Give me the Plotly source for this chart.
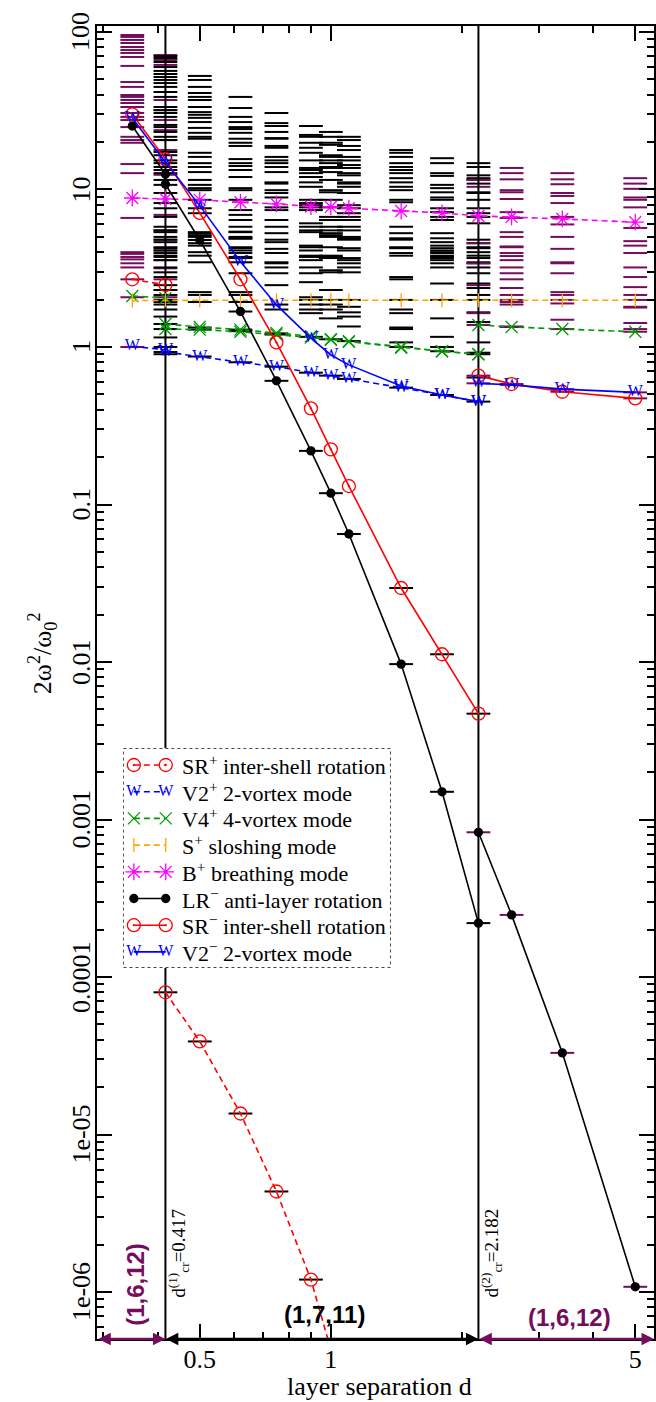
import math
import plotly.graph_objects as go

# ---------------- data ----------------
d_all = [0.35, 0.417, 0.5, 0.62, 0.75, 0.9, 1.0, 1.1, 1.45, 1.8, 2.182, 2.6, 3.4, 5.0]
d_r1 = [0.35, 0.417]
d_mid = [0.417, 0.5, 0.62, 0.75, 0.9, 1.0, 1.1, 1.45, 1.8, 2.182]
d_r3 = [2.182, 2.6, 3.4, 5.0]

# SR+ inter-shell rotation (dashed)
srp_r1 = [2.69, 2.48]
srp_mid_d = [0.417, 0.5, 0.62, 0.75, 0.9, 1.0]
srp_mid = [8.0e-5, 3.9e-5, 1.36e-5, 4.35e-6, 1.2e-6, 4.3e-7]
# V2+ 2-vortex mode (dashed)
v2p_r1 = [1.01, 0.96]
v2p_mid = [0.93, 0.867, 0.80, 0.75, 0.687, 0.658, 0.627, 0.552, 0.496, 0.45]
# V4+ 4-vortex mode (dashed)
v4p_r1 = [2.11, 2.04]
v4p_mid_a = [1.40, 1.34, 1.29, 1.23, 1.17, 1.12, 1.09, 1.0, 0.94, 0.90]
v4p_mid_b = [1.30, 1.29, 1.25, 1.20, 1.15, 1.11, 1.08, 0.99, 0.94, 0.90]
v4p_r3 = [1.38, 1.34, 1.30, 1.25]
# S+ sloshing mode
sp_all = [1.97, 1.98, 1.98, 1.98, 1.98, 1.98, 1.98, 1.98, 1.98, 1.98, 1.98, 1.98, 1.98, 1.98]
# B+ breathing mode
bp_all = [8.83, 8.7, 8.6, 8.3, 8.1, 7.8, 7.75, 7.6, 7.3, 7.1, 6.8, 6.7, 6.5, 6.2]
# LR- anti-layer rotation (solid)
lrm_r1 = [25.3, 12.5]
lrm_mid = [10.8, 4.78, 1.68, 0.61, 0.219, 0.118, 0.065, 0.0097, 0.0015, 2.2e-4]
lrm_r3 = [8.3e-4, 2.48e-4, 3.3e-5, 1.08e-6]
# SR- inter-shell rotation (solid)
srm_d = [0.35, 0.417, 0.5, 0.62, 0.75, 0.9, 1.0, 1.1, 1.45, 1.8, 2.182]
srm_main = [30.0, 15.6, 7.1, 2.69, 1.07, 0.408, 0.224, 0.131, 0.0295, 0.0112, 0.0047]
srm_r3 = [0.658, 0.582, 0.52, 0.472]
# V2- 2-vortex mode (solid)
v2m_main = [28.4, 14.9, 7.9, 3.48, 1.85, 1.14, 0.89, 0.77, 0.565, 0.496, 0.45]
v2m_r3 = [0.588, 0.575, 0.54, 0.515]

# excitation spectra (short horizontal bars)
spec_035_purple = [95.7, 93.0, 89.0, 85.1, 80.3, 76.8, 73.6, 69.4, 60.9, 48.1, 44.8, 39.8, 38.7, 37.0,
                   35.4, 33.4, 30.6, 28.9, 27.6, 24.9, 21.6, 20.6, 19.8, 14.5, 12.7, 6.6, 4.0, 3.9,
                   3.73, 3.6, 3.4, 3.2, 2.69, 2.07, 1.0]
spec_0417_black = [70.4, 68.4, 64.5, 59.9, 56.6, 54.1, 51.8, 49.6, 47.4, 44.8, 41.6, 38.7, 33.4, 31.9,
                   30.6, 28.9, 25.7, 24.9, 23.2, 21.6, 20.6, 17.3, 16.5, 15.3, 14.7, 13.9, 13.3, 12.7,
                   11.5, 10.7, 9.5, 8.2, 7.6, 6.7, 5.8, 5.5, 5.36, 5.0, 4.8, 4.63, 4.3, 4.24, 4.1, 3.95,
                   3.8, 3.73, 3.56, 3.2, 2.98, 2.78, 2.47, 2.3, 2.14, 1.99, 1.93, 1.86, 1.73, 1.56,
                   1.40, 1.30, 1.15, 1.0, 0.93, 0.90, 8.0e-5]
spec_0417_purple = [71.4, 66.4, 61.8, 37.0, 31.9, 27.6, 23.8, 20.6, 17.8, 12.4, 6.9, 5.5, 4.8, 4.1,
                    3.56, 3.16, 2.69, 2.3, 2.07]
spec_05_black = [52.6, 49.6, 44.8, 41.0, 38.7, 37.0, 33.4, 31.0, 29.8, 28.5, 26.8, 24.6, 22.9, 21.6,
                 21.0, 17.1, 16.1, 14.7, 13.9, 12.9, 11.5, 10.7, 10.2, 9.9, 8.6, 7.6, 7.07, 5.36,
                 5.28, 5.13, 5.0, 4.56, 4.4, 4.0, 3.8, 3.45, 2.23, 2.14, 1.93, 1.33, 1.29, 0.87,
                 4.78, 3.9e-5]
spec_062_black = [38.7, 32.9, 28.9, 26.8, 24.9, 24.2, 22.9, 21.0, 19.8, 18.9, 15.6, 14.7, 14.1, 13.3,
                  12.0, 10.2, 9.9, 8.6, 7.4, 6.9, 6.4, 5.8, 5.4, 5.36, 5.0, 4.9, 4.87, 4.3, 4.24,
                  4.1, 3.95, 3.73, 3.67, 3.45, 2.94, 2.23, 2.14, 1.93, 1.68, 1.29, 1.26, 0.80, 1.36e-5]
spec_075_black = [30.6, 26.4, 25.3, 23.2, 21.2, 21.0, 18.9, 18.4, 16.1, 15.3, 14.7, 13.9, 12.9, 11.1,
                  10.9, 9.9, 9.5, 8.9, 7.7, 7.4, 6.4, 5.8, 5.28, 4.8, 4.63, 4.2, 3.95, 3.45, 3.4,
                  3.2, 2.94, 2.47, 1.86, 1.73, 1.22, 1.20, 0.75, 0.61, 4.35e-6]
spec_09_black = [25.3, 22.2, 21.6, 19.8, 18.4, 17.1, 15.3, 13.7, 13.3, 12.7, 12.0, 11.1, 10.4, 8.6,
                 8.2, 7.95, 7.7, 7.4, 6.1, 5.8, 5.5, 5.36, 4.4, 4.3, 4.1, 3.8, 3.73, 3.56, 3.2, 2.94,
                 2.58, 2.07, 1.99, 1.86, 1.73, 1.64, 1.16, 0.687, 0.219, 1.2e-6]
spec_10_black = [23.2, 21.6, 19.8, 19.2, 16.5, 16.1, 15.3, 14.7, 13.9, 13.7, 12.9, 11.5, 9.9, 9.6,
                 8.6, 7.7, 6.7, 6.4, 5.8, 5.5, 5.28, 5.13, 5.0, 4.3, 3.8, 3.73, 3.67, 3.07, 2.98,
                 2.3, 1.99, 1.86, 1.73, 1.52, 1.12, 0.658, 0.118]
spec_11_black = [21.6, 20.6, 18.9, 17.8, 16.1, 15.3, 14.3, 13.7, 12.7, 12.3, 11.1, 10.9, 10.4, 9.5,
                 7.95, 7.6, 7.07, 6.7, 6.4, 5.8, 5.5, 5.0, 4.9, 4.8, 4.24, 4.1, 3.67, 3.56, 3.4,
                 3.2, 2.98, 1.99, 1.8, 1.66, 1.56, 1.35, 1.09, 0.627, 0.065]
spec_145_black = [17.8, 17.1, 16.1, 14.7, 13.9, 13.3, 12.7, 11.8, 11.1, 10.4, 9.9, 8.6, 8.3, 5.8,
                  5.28, 4.9, 4.8, 4.3, 4.24, 3.95, 3.8, 2.78, 2.69, 1.99, 1.73, 1.64, 1.33, 1.30,
                  1.07, 1.0, 0.552, 0.0295, 0.0097]
spec_18_black = [15.8, 14.7, 12.7, 12.2, 10.7, 10.2, 9.6, 8.9, 8.6, 7.6, 7.18, 6.7, 6.4, 5.28, 4.9,
                 4.63, 4.4, 4.24, 4.1, 4.0, 3.95, 3.8, 3.73, 3.67, 3.56, 3.4, 3.2, 2.53, 1.99, 1.52,
                 1.16, 1.0, 0.94, 0.496, 0.0112, 0.0015]
spec_2182_black = [14.7, 13.9, 12.3, 11.8, 11.5, 10.9, 9.6, 9.5, 8.6, 7.6, 7.07, 6.7, 6.1, 4.8, 4.56,
                   4.3, 4.24, 4.0, 3.8, 3.67, 3.45, 3.4, 3.2, 2.94, 2.53, 2.37, 2.14, 1.99, 1.66,
                   1.44, 1.07, 0.92, 0.90, 0.64, 0.45, 0.0047, 2.2e-4]
spec_2182_purple = [11.5, 10.4, 4.56, 3.4, 2.47, 1.64, 1.38, 0.658, 0.588, 8.3e-4]
spec_26_purple = [13.7, 12.7, 11.6, 9.9, 9.6, 8.7, 7.18, 6.6, 5.36, 5.0, 4.35, 4.3, 3.95, 3.78, 3.56,
                  3.2, 2.94, 2.69, 2.37, 2.14, 1.99, 1.93, 1.86, 1.35, 1.34, 0.582, 0.575, 2.48e-4]
spec_34_purple = [12.7, 11.6, 10.8, 9.5, 9.1, 8.2, 6.7, 6.0, 5.0, 4.2, 3.45, 3.4, 2.94, 2.23, 2.14,
                  1.99, 1.89, 1.49, 1.30, 0.54, 0.52, 3.3e-5]
spec_50_purple = [11.8, 10.9, 10.1, 8.9, 8.6, 7.7, 5.7, 4.7, 4.4, 3.95, 3.2, 2.78, 2.4, 2.14, 1.99,
                  1.8, 1.78, 1.42, 1.30, 1.25, 0.515, 0.472, 1.08e-6]

d_cr1 = 0.417
d_cr2 = 2.182

x_ticks = [0.5, 1, 5]
x_ticktext = ["0.5", "1", "5"]
x_minor = [0.3, 0.4, 0.6, 0.7, 0.8, 0.9, 2, 3, 4]
y_ticks = [1e-6, 1e-5, 1e-4, 1e-3, 1e-2, 1e-1, 1, 10, 100]
y_ticktext = ["1e-06", "1e-05", "0.0001", "0.001", "0.01", "0.1", "1", "10", "100"]
y_minor = [m * 10.0 ** e for e in range(-7, 2) for m in range(2, 10)]

legend_labels = ["SR<sup>+</sup> inter-shell rotation", "V2<sup>+</sup> 2-vortex mode",
                 "V4<sup>+</sup> 4-vortex mode", "S<sup>+</sup> sloshing mode",
                 "B<sup>+</sup> breathing mode", "LR<sup>\u2212</sup> anti-layer rotation",
                 "SR<sup>\u2212</sup> inter-shell rotation", "V2<sup>\u2212</sup> 2-vortex mode"]

# ---------------- styling ----------------
W, H = 656, 1402
ML, MR, MT, MB = 97, 0, 26, 63
PW = W - ML - MR
PH = H - MT - MB
XR = [-0.537, 0.742]
YR = [-6.298, 2.038]

RED = "#ff0000"
BLUE = "#0000ff"
GREEN = "#009a00"
ORANGE = "#ffa500"
MAGENTA = "#ff00ff"
PURPLE = "#760c5c"
SERIF = "Liberation Serif"
SANS = "Liberation Sans"
DASH = "6px,4px"

# legend box (pixels)
LX0, LX1, LY0, LY1 = 123, 392, 748, 968


def xp(d):
    return (math.log10(d) - XR[0]) / (XR[1] - XR[0])


def yfrac(v):
    return (math.log10(v) - YR[0]) / (YR[1] - YR[0])


def yp(py):
    return 1 - (py - MT) / PH


def xpp(px):
    return (px - ML) / PW


def join(*segs):
    xs, ys = [], []
    for i, (dx, dy) in enumerate(segs):
        if i:
            xs.append(None)
            ys.append(None)
        xs += list(dx)
        ys += list(dy)
    return xs, ys


fig = go.Figure()

# spectra
spectra = [
    (0.35, spec_035_purple, PURPLE), (0.417, spec_0417_purple, PURPLE), (0.417, spec_0417_black, "black"),
    (0.5, spec_05_black, "black"), (0.62, spec_062_black, "black"), (0.75, spec_075_black, "black"),
    (0.9, spec_09_black, "black"), (1.0, spec_10_black, "black"), (1.1, spec_11_black, "black"),
    (1.45, spec_145_black, "black"), (1.8, spec_18_black, "black"), (2.182, spec_2182_black, "black"),
    (2.182, spec_2182_purple, PURPLE), (2.6, spec_26_purple, PURPLE), (3.4, spec_34_purple, PURPLE),
    (5.0, spec_50_purple, PURPLE),
]
for d, vals, col in spectra:
    fig.add_trace(go.Scatter(x=[d] * len(vals), y=vals, mode="markers", showlegend=False,
                             hoverinfo="skip",
                             marker=dict(symbol="line-ew-open", size=17, color=col,
                                         line=dict(color=col, width=2))))

# critical separations
for dc in (d_cr1, d_cr2):
    fig.add_trace(go.Scatter(x=[dc, dc], y=[1e-8, 1e3], mode="lines", showlegend=False,
                             hoverinfo="skip", line=dict(color="black", width=2)))


def add_mode(xs, ys, color, dash, symbol=None, msize=12, text=None, xaxis="x", yaxis="y"):
    if text:
        tr = go.Scatter(x=xs, y=ys, mode="lines+text", text=text, textposition="middle center",
                        textfont=dict(color=color, size=16, family=SERIF),
                        line=dict(color=color, width=1.6, dash=dash))
    else:
        tr = go.Scatter(x=xs, y=ys, mode="lines+markers",
                        line=dict(color=color, width=1.6, dash=dash),
                        marker=dict(symbol=symbol, size=msize, color=color,
                                    line=dict(color=color, width=1.3)))
    tr.update(showlegend=False, hoverinfo="skip", xaxis=xaxis, yaxis=yaxis)
    fig.add_trace(tr)


mode_styles = [
    (RED, DASH, "circle-open-dot", 13, None),
    (BLUE, DASH, None, 12, "W"),
    (GREEN, DASH, "x-thin-open", 12, None),
    (ORANGE, DASH, "line-ns-open", 10, None),
    (MAGENTA, DASH, "asterisk-open", 14, None),
    ("black", "solid", "circle", 8, None),
    (RED, "solid", "circle-open-dot", 13, None),
    (BLUE, "solid", None, 12, "W"),
]

mode_data = [
    join((d_r1, srp_r1), (srp_mid_d, srp_mid)),
    join((d_r1, v2p_r1), (d_mid, v2p_mid)),
    join((d_r1, v4p_r1), (d_mid, v4p_mid_a), (d_mid, v4p_mid_b), (d_r3, v4p_r3)),
    (d_all, sp_all),
    (d_all, bp_all),
    join((d_r1, lrm_r1), (d_mid, lrm_mid), (d_r3, lrm_r3)),
    join((srm_d, srm_main), (d_r3, srm_r3)),
    join((srm_d, v2m_main), (d_r3, v2m_r3)),
]
for (xs, ys), (col, dash, sym, ms, txt) in zip(mode_data, mode_styles):
    add_mode(xs, ys, col, dash, sym, ms, txt)

# legend drawn in an inset subplot (pixel coordinates)
row_y = [765 + i * 26.7 for i in range(8)]
for ry, (col, dash, sym, ms, txt) in zip(row_y, mode_styles):
    add_mode([134, 166], [ry, ry], col, dash, sym, ms, txt, xaxis="x2", yaxis="y2")

axis_common = dict(showline=True, linecolor="black", linewidth=2, mirror="ticks", ticks="inside",
                   ticklen=15, tickwidth=2, tickcolor="black", showgrid=False, zeroline=False,
                   tickfont=dict(family=SERIF, size=26, color="black"))
fig.update_layout(
    xaxis=dict(type="log", range=XR, tickvals=x_ticks, ticktext=x_ticktext, ticklabelstandoff=-4,
               minor=dict(tickvals=x_minor, ticks="inside", ticklen=7, tickwidth=2,
                          tickcolor="black"), **axis_common),
    yaxis=dict(type="log", range=YR, tickvals=y_ticks, showticklabels=False,
               minor=dict(tickvals=y_minor, ticks="inside", ticklen=7, tickwidth=2,
                          tickcolor="black"), **axis_common),
    xaxis2=dict(domain=[xpp(LX0), xpp(LX1)], range=[LX0, LX1], anchor="y2", visible=False,
                fixedrange=True),
    yaxis2=dict(domain=[yp(LY1), yp(LY0)], range=[LY1, LY0], anchor="x2", visible=False,
                fixedrange=True),
)

ann = []
for v, t in zip(y_ticks, y_ticktext):
    ann.append(dict(text=t, x=xpp(81), y=yfrac(v), xref="paper", yref="paper", showarrow=False,
                    textangle=-90, xanchor="center", yanchor="middle",
                    font=dict(family=SERIF, size=26, color="black")))
ann.append(dict(text="2\u03c9<sup>2</sup>/\u03c9<sub>0</sub><sup>2</sup>", x=xpp(42), y=yp(653),
                xref="paper", yref="paper", showarrow=False, textangle=-90,
                xanchor="center", yanchor="middle",
                font=dict(family=SERIF, size=26, color="black")))
ann.append(dict(text="layer separation d", x=xpp(381), y=yp(1386), xref="paper", yref="paper",
                showarrow=False, xanchor="center", yanchor="middle",
                font=dict(family=SERIF, size=26, color="black")))
ann.append(dict(text="d<sup>(1)</sup><sub>cr</sub>=0.417", x=xpp(178), y=yp(1253),
                xanchor="center", yanchor="middle",
                xref="paper", yref="paper", showarrow=False, textangle=-90,
                font=dict(family=SERIF, size=19, color="black")))
ann.append(dict(text="d<sup>(2)</sup><sub>cr</sub>=2.182", x=xpp(492), y=yp(1253),
                xanchor="center", yanchor="middle",
                xref="paper", yref="paper", showarrow=False, textangle=-90,
                font=dict(family=SERIF, size=19, color="black")))
ann.append(dict(text="<b>(1,6,12)</b>", x=xpp(135), y=yp(1284), xref="paper", yref="paper",
                xanchor="center", yanchor="middle",
                showarrow=False, textangle=-90, font=dict(family=SANS, size=24, color=PURPLE)))
ann.append(dict(text="<b>(1,7,11)</b>", x=xpp(325), y=yp(1314), xref="paper", yref="paper",
                xanchor="center", yanchor="middle",
                showarrow=False, font=dict(family=SANS, size=24, color="black")))
ann.append(dict(text="<b>(1,6,12)</b>", x=xpp(571), y=yp(1317), xref="paper", yref="paper",
                xanchor="center", yanchor="middle",
                showarrow=False, font=dict(family=SANS, size=24, color=PURPLE)))
for ry, lab in zip(row_y, legend_labels):
    ann.append(dict(text=lab, x=180, y=ry, xref="x2", yref="y2", showarrow=False,
                    xanchor="left", yanchor="middle",
                    font=dict(family=SERIF, size=22, color="black")))

x1 = xp(d_cr1)
x2 = xp(d_cr2)
for (xa, xb, col) in [(0.0, x1, PURPLE), (x1, x2, "black"), (x2, 1.0, PURPLE)]:
    ann.append(dict(text="", x=xb, y=0, xref="paper", yref="paper", axref="pixel", ayref="pixel",
                    ax=-(xb - xa) * PW, ay=0, showarrow=True, arrowhead=2, startarrowhead=2,
                    arrowside="end+start", arrowwidth=2.5, arrowsize=1, arrowcolor=col))

shapes = [dict(type="rect", xref="x2", yref="y2", x0=LX0 + 0.5, x1=LX1 - 0.5, y0=LY0 + 0.5,
               y1=LY1 - 0.5, line=dict(color="#444444", width=1, dash="dot"), layer="above")]

fig.update_layout(
    width=W, height=H, margin=dict(l=ML, r=MR, t=MT, b=MB),
    paper_bgcolor="white", plot_bgcolor="white",
    annotations=ann, shapes=shapes, showlegend=False,
    font=dict(family=SERIF),
)

fig.write_html("out.html")
